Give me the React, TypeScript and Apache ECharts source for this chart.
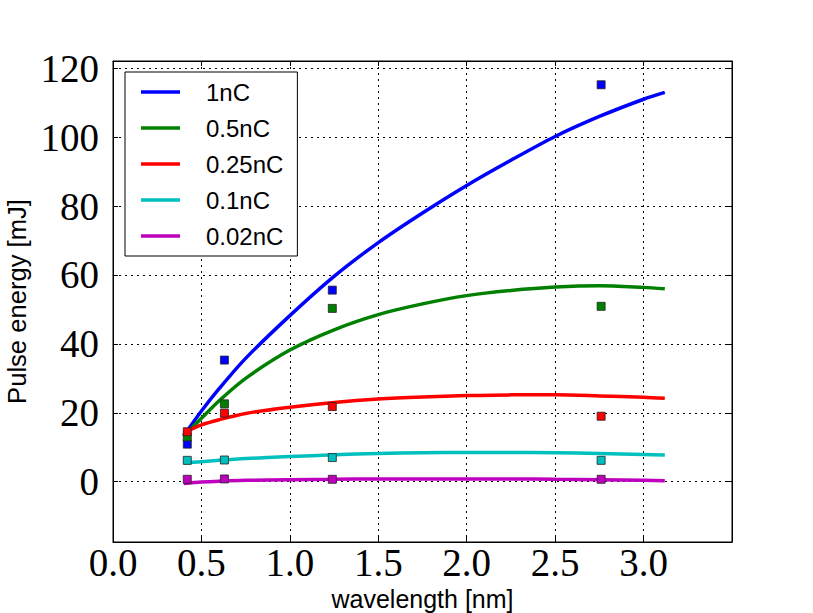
import React, { useEffect, useRef } from "react";
import * as echarts from "echarts";

// Fitted curves
const curveX = [0.4, 0.5, 0.6, 0.75, 1.0, 1.25, 1.5, 1.75, 2.0, 2.25, 2.5, 2.75, 3.0, 3.12];
const fit1nC = [13.3, 20.5, 27, 35.8, 48.2, 59.6, 69.4, 78, 86, 93.3, 100.2, 106, 111, 113];
const fit05nC = [13.2, 18.4, 23.5, 30.0, 38.2, 44.1, 48.5, 51.6, 54, 55.5, 56.5, 56.9, 56.4, 56];
const fit025nC = [14.2, 16.5, 18.0, 19.8, 21.6, 23.0, 24.0, 24.6, 25.0, 25.2, 25.2, 24.9, 24.5, 24.2];
const fit01nC = [5.4, 5.8, 6.2, 6.7, 7.3, 7.8, 8.2, 8.4, 8.5, 8.5, 8.4, 8.2, 7.9, 7.75];
const fit002nC = [-0.5, -0.1, 0.15, 0.4, 0.6, 0.7, 0.8, 0.8, 0.8, 0.8, 0.7, 0.6, 0.4, 0.3];

// Measured points
const measX = [0.42, 0.63, 1.24, 2.76];
const meas1nC = [10.9, 35.3, 55.6, 115.2];
const meas05nC = [13, 22.6, 50.3, 50.9];
const meas025nC = [14.5, 19.9, 21.8, 19.0];
const meas01nC = [6.2, 6.3, 7.0, 6.2];
const meas002nC = [0.7, 0.8, 0.7, 0.7];

const seriesNames = ["1nC", "0.5nC", "0.25nC", "0.1nC", "0.02nC"];
const seriesColors = ["#0000ff", "#008000", "#ff0000", "#00bfbf", "#bf00bf"];
const fits = [fit1nC, fit05nC, fit025nC, fit01nC, fit002nC];
const meas = [meas1nC, meas05nC, meas025nC, meas01nC, meas002nC];

const xTicks = [0.0, 0.5, 1.0, 1.5, 2.0, 2.5, 3.0];

const SERIF = "Liberation Serif";
const SANS = "Liberation Sans";

export default function App() {
  const ref = useRef<HTMLDivElement>(null);
  useEffect(() => {
    if (!ref.current) return;
    const chart = echarts.init(ref.current, null, { renderer: "svg" });
    const gridLine = { show: true, lineStyle: { color: "#000", type: [2, 4], width: 1 } };
    const axisLine = { show: true, onZero: false, lineStyle: { color: "#000", width: 1 } };
    const tick = { show: true, inside: true, length: 5, lineStyle: { color: "#000", width: 1 } };

    const lineSeries = seriesNames.map((name, i) => ({
      name,
      type: "line",
      data: curveX.map((x, j) => [x, fits[i][j]]),
      showSymbol: false,
      smooth: 0.3,
      lineStyle: { color: seriesColors[i], width: 3.5 },
      itemStyle: { color: seriesColors[i] },
      z: 2,
      silent: true,
    }));
    const scatterSeries = seriesNames.map((name, i) => ({
      name: name + " data",
      type: "scatter",
      data: measX.map((x, j) => [x, meas[i][j]]),
      symbol: "rect",
      symbolSize: 8,
      itemStyle: { color: seriesColors[i], borderColor: "#222", borderWidth: 0.8, opacity: 1 },
      z: 3,
      silent: true,
    }));

    chart.setOption({
      animation: false,
      backgroundColor: "#fff",
      grid: {
        left: 113,
        top: 61,
        width: 619,
        height: 481,
        outerBoundsMode: "none",
        containLabel: false,
        show: true,
        borderColor: "#000",
        borderWidth: 1,
        backgroundColor: "transparent",
      },
      legend: {
        data: seriesNames,
        orient: "vertical",
        left: 125,
        top: 72,
        icon: "rect",
        itemWidth: 39,
        itemHeight: 3.5,
        itemGap: 12,
        padding: [8, 14, 8, 16],
        backgroundColor: "#fff",
        borderColor: "#000",
        borderWidth: 1,
        selectedMode: false,
        textStyle: {
          fontFamily: SANS,
          fontSize: 24,
          color: "#000",
          padding: [0, 0, 0, 21],
        },
      },
      xAxis: [
        {
          type: "value",
          min: 0,
          max: 3.5,
          interval: 0.5,
          position: "bottom",
          axisLine,
          axisTick: tick,
          axisLabel: {
            fontFamily: SERIF,
            fontSize: 39,
            color: "#000",
            margin: 1,
            formatter: (v: number) =>
              xTicks.some((t) => Math.abs(t - v) < 1e-6) ? v.toFixed(1) : "",
          },
          splitLine: gridLine,
          name: "wavelength [nm]",
          nameLocation: "middle",
          nameGap: 32,
          nameTextStyle: { fontFamily: SANS, fontSize: 25, color: "#000" },
        },
        {
          type: "value",
          min: 0,
          max: 3.5,
          interval: 0.5,
          position: "top",
          axisLine,
          axisTick: tick,
          axisLabel: { show: false },
          splitLine: { show: false },
        },
      ],
      yAxis: [
        {
          type: "value",
          min: -17.5,
          max: 122.1,
          splitNumber: 7,
          minInterval: 20,
          maxInterval: 20,
          position: "left",
          axisLine,
          axisTick: tick,
          axisLabel: {
            fontFamily: SERIF,
            fontSize: 39,
            color: "#000",
            margin: 14,
            formatter: (v: number) =>
              Math.abs(v / 20 - Math.round(v / 20)) < 1e-6 ? String(Math.round(v)) : "",
          },
          splitLine: gridLine,
          name: "Pulse energy [mJ]",
          nameLocation: "middle",
          nameGap: 75,
          nameRotate: 90,
          nameTextStyle: { fontFamily: SANS, fontSize: 25.6, color: "#000" },
        },
        {
          type: "value",
          min: -17.5,
          max: 122.1,
          splitNumber: 7,
          minInterval: 20,
          maxInterval: 20,
          position: "right",
          axisLine,
          axisTick: tick,
          axisLabel: { show: false },
          splitLine: { show: false },
        },
      ],
      series: [...lineSeries, ...scatterSeries],
    });
    return () => chart.dispose();
  }, []);
  return (
    <div
      ref={ref}
      style={{ position: "fixed", left: 0, top: 0, width: 813, height: 613, background: "#fff" }}
    />
  );
}
